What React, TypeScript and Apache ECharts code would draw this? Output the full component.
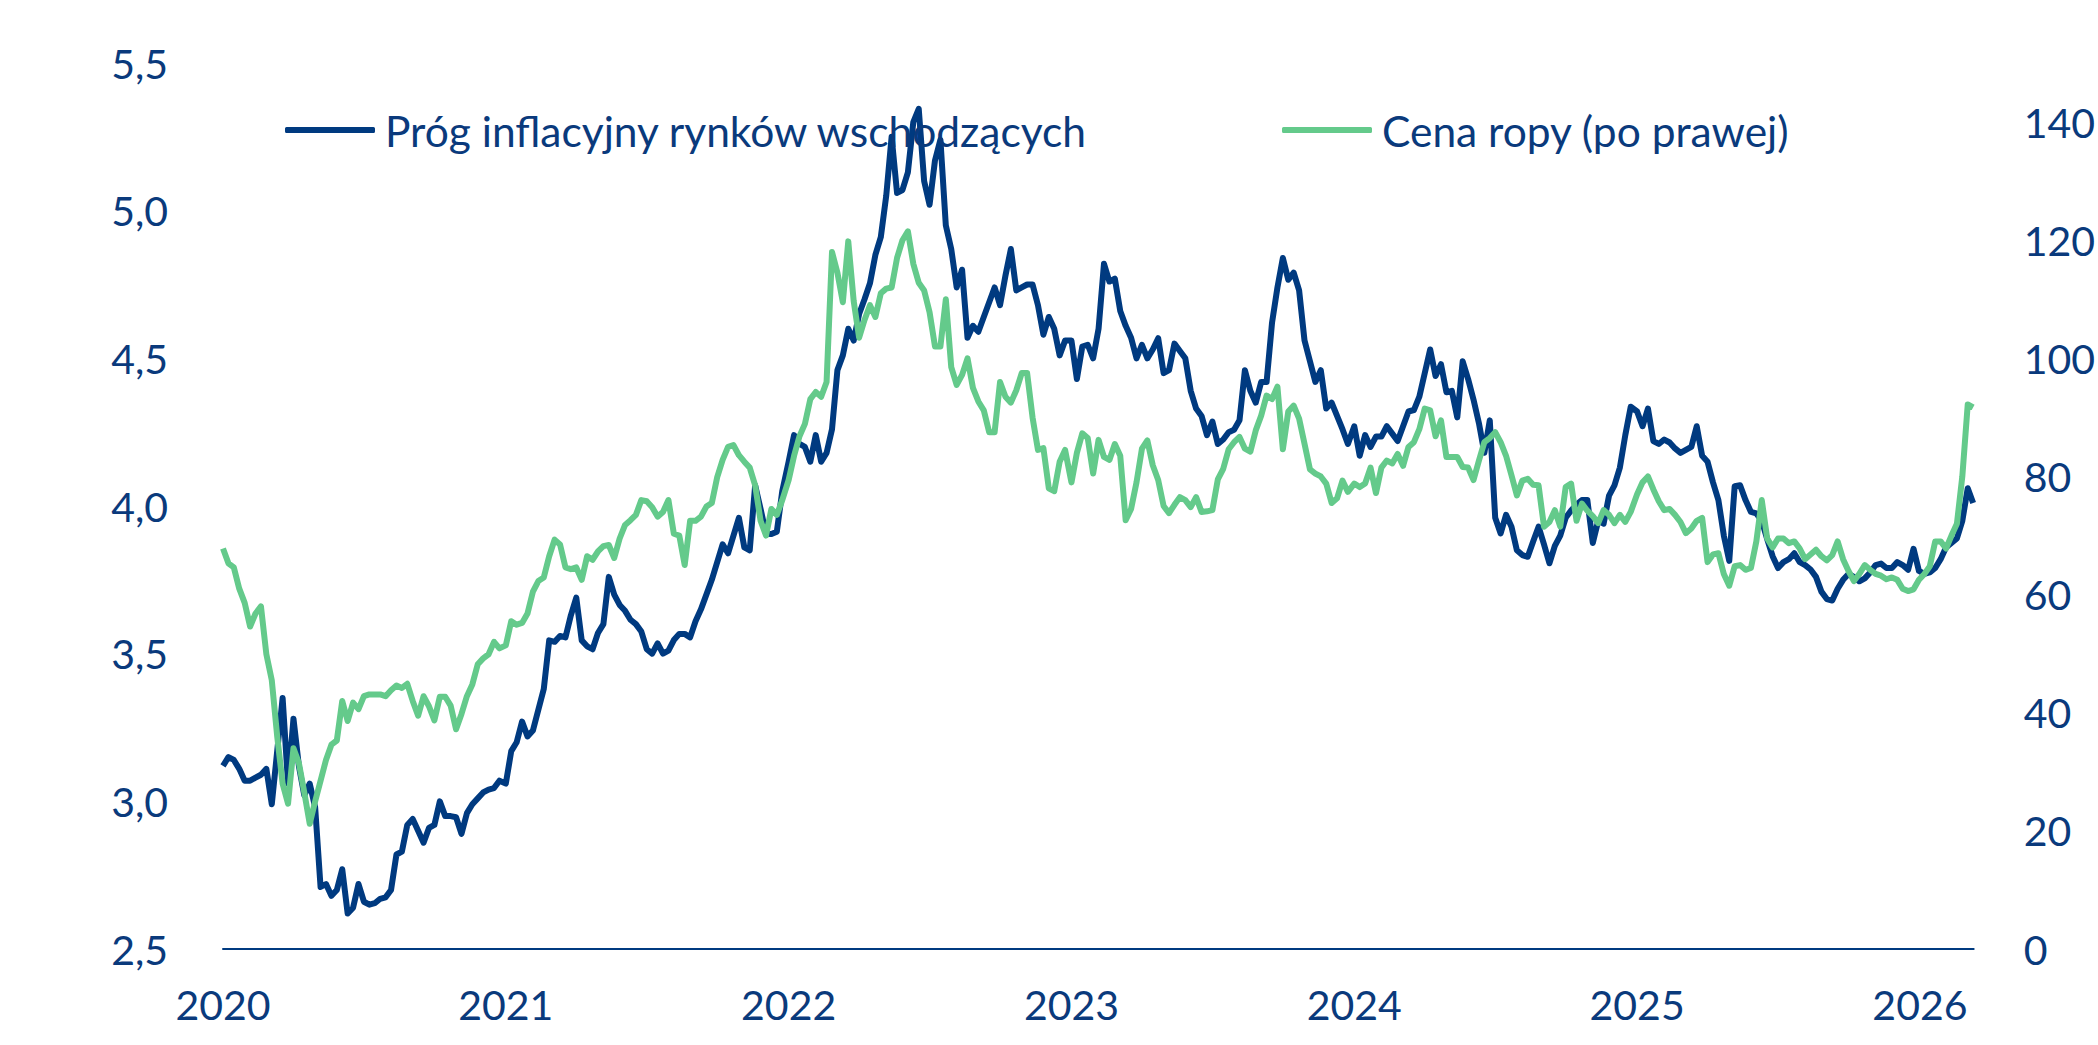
import React, { useEffect, useRef } from 'react';
import * as echarts from 'echarts';

// tygodniowe odczyty, od pierwszego tygodnia danego roku
const breakeven2020 = [
  3.12, 3.15, 3.14, 3.11, 3.07, 3.07, 3.08, 3.09, 3.11, 2.99, 3.17, 3.35, 3.06, 3.28, 3.12, 3.02, 3.06, 2.98,
  2.71, 2.72, 2.68, 2.7, 2.77, 2.62, 2.64, 2.72, 2.66, 2.65, 2.655, 2.67, 2.675, 2.7, 2.82, 2.83, 2.92, 2.94,
  2.9, 2.86, 2.91, 2.92, 3.0, 2.95, 2.95, 2.946, 2.89, 2.96, 2.99, 3.01, 3.03, 3.04, 3.045, 3.07,
];
const breakeven2021 = [
  3.06, 3.17, 3.2, 3.27, 3.22, 3.24, 3.31, 3.38, 3.545, 3.54, 3.56, 3.555, 3.63, 3.69, 3.545, 3.525, 3.515, 3.57,
  3.6, 3.76, 3.7, 3.665, 3.645, 3.615, 3.6, 3.575, 3.515, 3.5, 3.535, 3.5, 3.51, 3.546, 3.567, 3.567, 3.555, 3.61,
  3.65, 3.7, 3.75, 3.81, 3.87, 3.84, 3.9, 3.96, 3.86, 3.85, 4.07, 3.99, 3.906, 3.905, 3.913, 4.05,
];
const breakeven2022 = [
  4.15, 4.24, 4.21, 4.2, 4.15, 4.24, 4.15, 4.18, 4.26, 4.46, 4.51, 4.6, 4.56, 4.65, 4.7, 4.754, 4.85, 4.91,
  5.05, 5.25, 5.06, 5.07, 5.13, 5.3, 5.345, 5.1, 5.02, 5.17, 5.24, 4.95, 4.87, 4.74, 4.8, 4.57, 4.61, 4.59,
  4.64, 4.69, 4.74, 4.68, 4.78, 4.87, 4.73, 4.74, 4.75, 4.75, 4.68, 4.58, 4.64, 4.6, 4.51, 4.56,
];
const breakeven2023 = [
  4.56, 4.43, 4.54, 4.546, 4.5, 4.6, 4.82, 4.76, 4.77, 4.66, 4.61, 4.57, 4.5, 4.546, 4.5, 4.53, 4.568, 4.45,
  4.46, 4.55, 4.525, 4.5, 4.39, 4.33, 4.305, 4.24, 4.286, 4.21, 4.225, 4.25, 4.258, 4.29, 4.46, 4.39, 4.35, 4.42,
  4.42, 4.62, 4.74, 4.84, 4.766, 4.79, 4.73, 4.56, 4.49, 4.42, 4.46, 4.33, 4.35, 4.305, 4.26, 4.21,
];
const breakeven2024 = [
  4.27, 4.17, 4.24, 4.2, 4.235, 4.235, 4.27, 4.245, 4.22, 4.27, 4.32, 4.325, 4.37, 4.45, 4.53, 4.44, 4.48, 4.385,
  4.39, 4.3, 4.49, 4.43, 4.36, 4.28, 4.18, 4.29, 3.96, 3.907, 3.97, 3.93, 3.85, 3.834, 3.828, 3.88, 3.93, 3.87,
  3.806, 3.865, 3.9, 3.96, 3.985, 4.005, 4.02, 4.02, 3.875, 3.95, 3.94, 4.035, 4.07, 4.13, 4.24, 4.336,
];
// 2025 i początek 2026
const breakeven2025 = [
  4.32, 4.27, 4.33, 4.22, 4.21, 4.225, 4.215, 4.195, 4.18, 4.19, 4.2, 4.27, 4.17, 4.15, 4.08, 4.02, 3.9, 3.814,
  4.067, 4.07, 4.02, 3.98, 3.975, 3.95, 3.888, 3.83, 3.79, 3.81, 3.82, 3.84, 3.81, 3.8, 3.785, 3.76, 3.71, 3.685,
  3.68, 3.72, 3.75, 3.77, 3.76, 3.745, 3.755, 3.775, 3.8, 3.805, 3.79, 3.79, 3.81, 3.8, 3.784, 3.855, 3.78, 3.77,
  3.775, 3.79, 3.82, 3.86, 3.875, 3.89, 3.95, 4.06, 4.01,
];

const oil2020 = [
  67.8, 65.3, 64.6, 61, 58.6, 54.6, 56.8, 58.0, 49.9, 45.5, 36, 28, 24.6, 34, 31.5, 26.5, 21.2, 25, 28.5, 32,
  34.6, 35.3, 42, 38.6, 41.7, 40.6, 42.8, 43.1, 43.1, 43.1, 42.8, 43.8, 44.6, 44.2, 44.9, 42, 39.5, 42.8, 41.1,
  38.7, 42.7, 42.7, 41.2, 37.2, 39.8, 42.8, 44.8, 48.2, 49.2, 49.9, 52, 50.9,
];
const oil2021 = [
  51.4, 55.5, 54.9, 55.2, 56.8, 60.5, 62.3, 62.9, 66.5, 69.3, 68.5, 64.6, 64.3, 64.6, 62.5, 66.5, 65.9, 67.3,
  68.2, 68.4, 66.2, 69.5, 71.8, 72.6, 73.5, 76.0, 75.8, 74.8, 73.2, 74.0, 76.0, 70.3, 70.0, 65.0, 72.5, 72.5,
  73.2, 74.9, 75.5, 79.9, 82.8, 85.0, 85.3, 83.6, 82.5, 81.5, 78.5, 72.5, 70.0, 74.5, 73.5, 76.0,
];
const oil2022 = [
  79.4, 83.5, 86.8, 88.9, 93.1, 94.3, 93.5, 96, 118, 114.5, 109.5, 119.8, 109.7, 103.5, 106.5, 109, 107, 111,
  111.8, 112, 117, 120, 121.5, 116, 112.8, 111.5, 107.8, 102, 102, 110, 98.5, 95.5, 97.2, 100, 95, 92.7, 91.2,
  87.5, 87.5, 96, 93.5, 92.5, 94.6, 97.5, 97.5, 90, 84.5, 84.8, 78, 77.5, 82.5, 84.5,
];
const oil2023 = [
  79, 84, 87.3, 86.5, 80.5, 86.2, 83.3, 82.8, 85.5, 83.5, 72.6, 74.5, 79, 84.7, 86.1, 81.9, 79.4, 75, 73.8,
  75.2, 76.5, 76, 74.8, 76.5, 74, 74.1, 74.3, 79.5, 81.3, 84.6, 85.8, 86.7, 84.7, 84.2, 87.8, 90.3, 93.7, 93.1,
  95.2, 84.6, 91, 92, 89.8, 85.5, 81.2, 80.5, 80, 78.8, 75.5, 76.3, 79.3, 77.4,
];
const oil2024 = [
  78.8, 78.2, 78.8, 81.5, 77.2, 81.5, 82.7, 82.2, 83.8, 81.8, 85, 85.8, 88, 91.5, 91.2, 86.8, 89.5, 83.3, 83.3,
  83.3, 81.6, 81.5, 79.4, 82.7, 85.8, 86.5, 87.5, 85.8, 83.5, 80.2, 76.8, 79.3, 79.6, 78.6, 78.5, 71.5, 72.3,
  74.3, 71.5, 78.2, 78.8, 72.5, 75.4, 74.2, 73.3, 72.1, 74.3, 73.5, 72.1, 73.5, 72.3, 74,
];
const oil2025 = [
  77, 79, 80, 77.8, 75.8, 74.3, 74.5, 73.5, 72.3, 70.4, 71.2, 72.5, 73.0, 65.5, 66.8, 67, 63.5, 61.5, 64.8, 65,
  64.2, 64.5, 69, 76, 69.5, 68, 69.5, 69.5, 68.7, 69, 67.8, 66, 66.8, 67.6, 66.5, 65.8, 66.7, 69, 66, 64, 62.3,
  63.5, 65, 64.2, 63.5, 63.2, 62.6, 62.9, 62.5, 61, 60.6, 60.9, 62.5, 63.5, 64.8, 69, 69, 67.8, 70, 72, 80,
  92.2, 91.7,
];

const years = [2020, 2021, 2022, 2023, 2024, 2025];
const breakevenByYear = [breakeven2020, breakeven2021, breakeven2022, breakeven2023, breakeven2024, breakeven2025];
const oilByYear = [oil2020, oil2021, oil2022, oil2023, oil2024, oil2025];

const leftTicks = { min: 2.5, max: 5.5, step: 0.5 };
const rightTicks = { min: 0, max: 150, step: 20 };

const NAME_BE = 'Próg inflacyjny rynków wschodzących';
const NAME_OIL = 'Cena ropy (po prawej)';
const NAVY = '#0a3a7c';
const BLUE = '#003a80';
const GREEN = '#64ca8b';
const FONT = 'Lato, "Noto Sans", sans-serif';

// tydzień k danego roku -> ułamek roku na osi X
const toSeries = (chunks: number[][]) =>
  chunks.flatMap((arr, i) => arr.map((v, k) => [years[i] + (k * 7) / 365.25, v]));

const X_MAX = 2026.19;

const App: React.FC = () => {
  const chartRef = useRef<HTMLDivElement>(null);

  useEffect(() => {
    if (!chartRef.current) return;
    const chart = echarts.init(chartRef.current, undefined, { renderer: 'svg' });

    const legendText = {
      color: NAVY,
      fontSize: 42.5,
      fontFamily: FONT,
      lineHeight: 50,
      padding: [0, 0, 0, 5],
    };
    const tickLabel = { color: NAVY, fontSize: 41, fontFamily: FONT };

    chart.setOption({
      animation: false,
      textStyle: { fontFamily: FONT },
      grid: { left: 223, right: 116, top: 63, bottom: 96, containLabel: false },
      legend: [
        {
          data: [NAME_BE],
          left: 285,
          top: 105,
          padding: 0,
          icon: 'roundRect',
          itemWidth: 90,
          itemHeight: 6,
          textStyle: legendText,
        },
        {
          data: [NAME_OIL],
          left: 1282,
          top: 105,
          padding: 0,
          icon: 'roundRect',
          itemWidth: 90,
          itemHeight: 6,
          textStyle: legendText,
        },
      ],
      xAxis: {
        type: 'value',
        min: 2020,
        max: X_MAX,
        interval: 1,
        axisLine: { show: true, lineStyle: { color: BLUE, width: 2 } },
        axisTick: { show: false },
        splitLine: { show: false },
        axisLabel: {
          ...tickLabel,
          margin: 35,
          showMaxLabel: false,
          formatter: (v: number) =>
            Math.abs(v - Math.round(v)) < 1e-6 ? String(Math.round(v)) : '',
        },
      },
      yAxis: [
        {
          type: 'value',
          min: leftTicks.min,
          max: leftTicks.max,
          interval: leftTicks.step,
          axisLine: { show: false },
          axisTick: { show: false },
          splitLine: { show: false },
          axisLabel: {
            ...tickLabel,
            margin: 55,
            formatter: (v: number) => v.toFixed(1).replace('.', ','),
          },
        },
        {
          type: 'value',
          position: 'right',
          min: rightTicks.min,
          max: rightTicks.max,
          interval: rightTicks.step,
          axisLine: { show: false },
          axisTick: { show: false },
          splitLine: { show: false },
          axisLabel: {
            ...tickLabel,
            margin: 50,
            showMaxLabel: false,
            formatter: (v: number) => (v >= rightTicks.max ? '' : String(v)),
          },
        },
      ],
      series: [
        {
          name: NAME_BE,
          type: 'line',
          yAxisIndex: 0,
          data: toSeries(breakevenByYear),
          symbol: 'none',
          lineStyle: { width: 6, color: BLUE, join: 'round' },
          itemStyle: { color: BLUE },
          z: 2,
        },
        {
          name: NAME_OIL,
          type: 'line',
          yAxisIndex: 1,
          data: toSeries(oilByYear),
          symbol: 'none',
          lineStyle: { width: 6, color: GREEN, join: 'round' },
          itemStyle: { color: GREEN },
          z: 3,
        },
      ],
    });

    return () => {
      chart.dispose();
    };
  }, []);

  return (
    <div
      ref={chartRef}
      style={{ position: 'absolute', left: 0, top: 0, width: 2098, height: 1045, background: '#fff' }}
    />
  );
};

export default App;
